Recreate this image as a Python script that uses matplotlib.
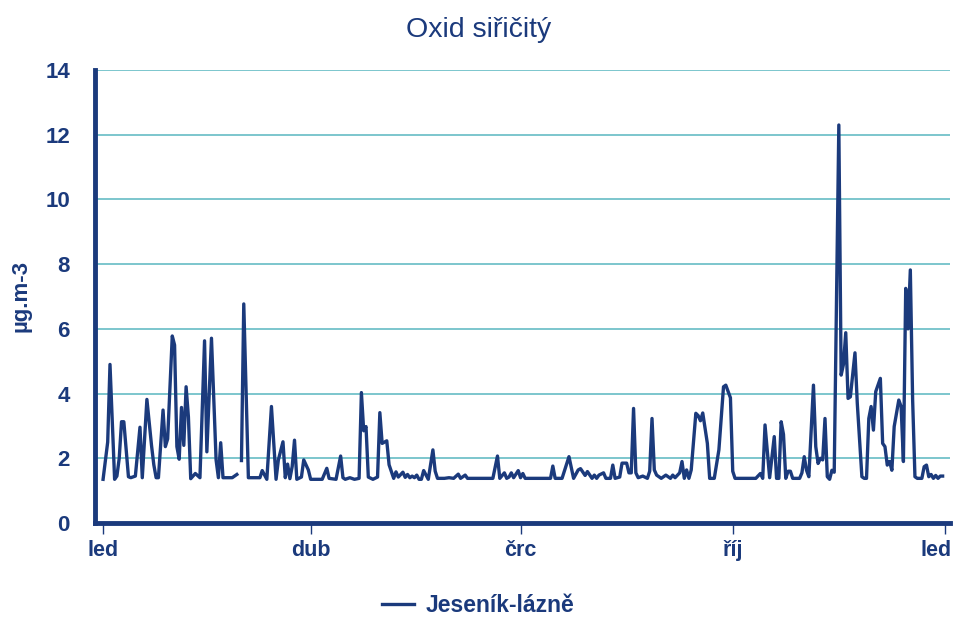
import numpy as np
import pandas as pd
import matplotlib
matplotlib.use('Agg')
import matplotlib.pyplot as plt
import matplotlib.transforms as mtransforms

plt.rcParams['font.family'] = ['Liberation Sans', 'DejaVu Sans']

# den v roce -> hodnota, NaN = chybějící data
days = [0, 2, 3, 5, 6, 7, 8, 9, 11, 12, 14, 16, 17, 19, 21, 22, 23, 24, 26, 27, 28, 30, 31, 32,
        33, 34, 35, 36, 37, 38, 40, 42, 44, 45, 47, 49, 50, 51, 52, 53, 55, 56, 58, 59, 60, 61,
        63, 64, 66, 68, 69, 71, 73, 75, 76, 78, 79, 80, 81, 82, 83, 84, 86, 87, 89, 90, 93, 95,
        97, 98, 101, 103, 104, 105, 107, 109, 111, 112, 113, 114, 115, 117, 119, 120, 121, 123,
        124, 126, 127, 128, 130, 131, 132, 133, 134, 135, 136, 137, 138, 139, 141, 143, 144, 145,
        148, 150, 152, 154, 155, 157, 158, 169, 171, 172, 174, 175, 176, 177, 178, 180, 181, 182,
        183, 194, 195, 196, 199, 202, 204, 206, 207, 209, 210, 212, 213, 214, 215, 217, 218, 220,
        221, 222, 224, 225, 227, 228, 229, 230, 231, 232, 234, 236, 237, 238, 239, 240, 242, 244,
        246, 247, 248, 250, 251, 252, 253, 254, 255, 257, 258, 259, 260, 262, 263, 265, 267, 269,
        270, 272, 273, 274, 283, 285, 286, 287, 289, 291, 292, 293, 294, 295, 296, 297, 298, 299,
        302, 303, 304, 305, 306, 308, 309, 310, 311, 312, 313, 314, 315, 316, 317, 319, 320, 321,
        322, 323, 324, 326, 327, 329, 330, 331, 332, 333, 334, 335, 337, 338, 339, 340, 341, 342,
        343, 345, 346, 347, 348, 349, 350, 351, 352, 353, 355, 356, 357, 358, 359, 360, 361, 362,
        363, 364]
values = [1.35, 2.5, 4.9, 1.35, 1.45, 2.0, 3.13, 3.13, 1.43, 1.4, 1.45, 2.96, 1.4, 3.82, 2.4, 1.8,
          1.4, 1.4, 3.49, 2.36, 2.6, 5.78, 5.5, 2.36, 1.97, 3.57, 2.4, 4.21, 3.28, 1.37, 1.53, 1.4,
          5.63, 2.2, 5.71, 1.95, 1.4, 2.48, 1.4, 1.4, 1.4, 1.4, 1.5, np.nan, 1.93, 6.77, 1.4, 1.4,
          1.4, 1.4, 1.62, 1.35, 3.6, 1.35, 1.95, 2.51, 1.4, 1.82, 1.37, 1.75, 2.56, 1.35, 1.42,
          1.95, 1.64, 1.35, 1.35, 1.35, 1.69, 1.38, 1.35, 2.07, 1.4, 1.35, 1.4, 1.35, 1.38, 4.03,
          2.85, 2.98, 1.42, 1.35, 1.42, 3.41, 2.46, 2.54, 1.8, 1.38, 1.58, 1.42, 1.57, 1.41, 1.5,
          1.4, 1.45, 1.4, 1.48, 1.35, 1.35, 1.62, 1.35, 2.26, 1.6, 1.38, 1.38, 1.4, 1.38, 1.51,
          1.38, 1.48, 1.38, 1.38, 2.07, 1.38, 1.55, 1.38, 1.42, 1.55, 1.4, 1.62, 1.4, 1.53, 1.38,
          1.38, 1.76, 1.38, 1.38, 2.05, 1.38, 1.64, 1.68, 1.47, 1.59, 1.38, 1.48, 1.38, 1.48, 1.55,
          1.38, 1.38, 1.79, 1.38, 1.42, 1.85, 1.85, 1.55, 1.55, 3.54, 1.55, 1.4, 1.45, 1.38, 1.6,
          3.23, 1.64, 1.48, 1.38, 1.48, 1.38, 1.48, 1.4, 1.55, 1.9, 1.38, 1.64, 1.38, 1.64, 3.39,
          3.32, 3.16, 3.4, 2.46, 1.38, 1.38, 2.26, 4.21, 4.26, 3.87, 1.6, 1.38, 1.38, 1.53, 1.38,
          3.03, 1.4, 2.67, 1.38, 1.38, 3.13, 2.74, 1.38, 1.6, 1.6, 1.38, 1.38, 1.55, 2.05, 1.63,
          1.43, 4.26, 2.36, 1.84, 2.0, 1.95, 3.23, 1.43, 1.35, 1.63, 1.57, 12.3, 4.57, 4.9, 5.88,
          3.85, 3.9, 5.26, 3.7, 1.43, 1.38, 1.38, 3.23, 3.6, 2.87, 4.06, 4.47, 2.46, 2.36, 1.79,
          1.9, 1.63, 2.98, 3.8, 3.6, 1.9, 7.25, 6.0, 7.82, 3.8, 1.43, 1.38, 1.38, 1.74, 1.79, 1.43,
          1.5, 1.38, 1.47, 1.38, 1.45, 1.45]

month_ticks = ['2019-01-01', '2019-04-01', '2019-07-01', '2019-10-01', '2020-01-01']
month_labels = ['led', 'dub', 'črc', 'říj', 'led']

navy = '#1b3a7c'
teal = '#7cc6cd'

start = pd.Timestamp('2019-01-01')
dates = start + pd.to_timedelta(days, unit='D')

fig = plt.figure(figsize=(9.57, 6.19), dpi=100)
ax = fig.add_axes([95 / 957, 96 / 619, 855 / 957, 453 / 619])

for v in range(2, 15, 2):
    ax.axhline(v, color=teal, lw=1.4, zorder=1)

ax.plot(dates, values, color=navy, lw=2.4, zorder=3, label='Jeseník-lázně')

ax.set_ylim(0, 14)
ax.set_xlim(start - pd.Timedelta(days=3.5), start + pd.Timedelta(days=367.2))
ax.set_yticks(range(0, 15, 2))
ax.set_xticks(pd.to_datetime(month_ticks))
ax.set_xticklabels(month_labels)

for s in ['top', 'right']:
    ax.spines[s].set_visible(False)
ax.spines['left'].set_linewidth(3.5)
ax.spines['bottom'].set_linewidth(3.5)
ax.spines['left'].set_color(navy)
ax.spines['bottom'].set_color(navy)

ax.tick_params(axis='y', length=0, pad=18, labelsize=16, labelcolor=navy)
ax.tick_params(axis='x', length=8, width=1, color=navy, pad=4, labelsize=15.5, labelcolor=navy)
for lab in ax.get_xticklabels() + ax.get_yticklabels():
    lab.set_fontweight('bold')

# posledni popisek "led" posunout doleva, aby se vesel
last = ax.get_xticklabels()[-1]
last.set_transform(last.get_transform() + mtransforms.ScaledTranslation(-9 / 100, 0, fig.dpi_scale_trans))

ax.set_ylabel('µg.m-3', fontsize=16, fontweight='bold', color=navy, labelpad=10)
fig.suptitle('Oxid siřičitý', x=0.5, y=0.972, fontsize=20.5, color=navy)

leg = fig.legend(loc='center', bbox_to_anchor=(0.5, 0.022), frameon=False,
                 prop={'weight': 'bold', 'size': 16.5}, handlelength=1.4, handletextpad=0.5)
for t in leg.get_texts():
    t.set_color(navy)

fig.savefig('out.png', dpi=100)
